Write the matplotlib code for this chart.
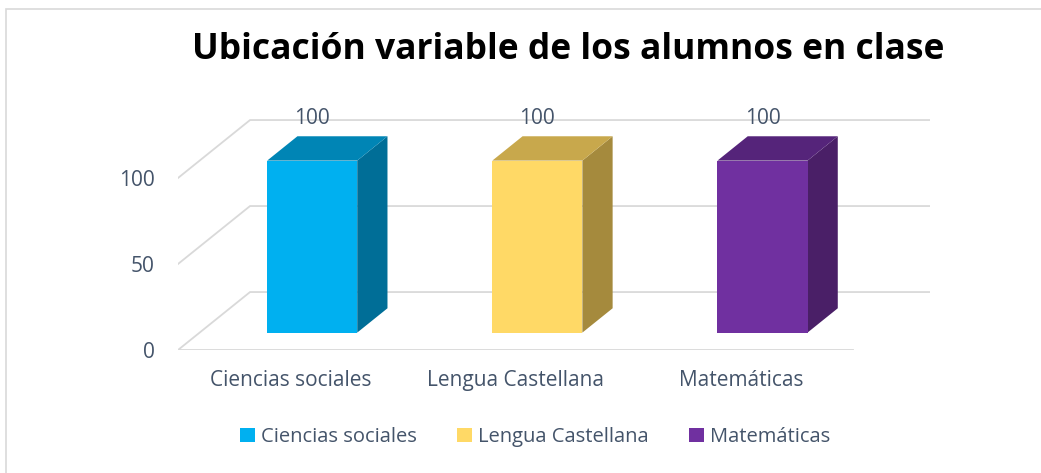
import matplotlib
matplotlib.use("Agg")
import matplotlib.pyplot as plt
from matplotlib.patches import Polygon, Patch, Rectangle

# datos
materias = ["Ciencias sociales", "Lengua Castellana", "Matemáticas"]
valores = [100, 100, 100]
ticks_y = [0, 50, 100]

# colores (frente, tapa, lateral)
col_frente = ["#00B0F0", "#FFD966", "#7030A0"]
col_tapa = ["#0085B5", "#C8A84C", "#55247A"]
col_lado = ["#006E97", "#A58A3D", "#4A1F67"]
txt_col = "#44546A"
grid_col = "#D9D9D9"

plt.rcParams['font.family'] = ['Open Sans', 'DejaVu Sans']

# proyeccion oblicua simple
DX = 0.32   # desplazamiento x por profundidad completa
DY = 33.7   # desplazamiento y por profundidad completa
Z0, Z1 = 0.30, 0.72   # profundidad de la barra
ANCHO = 0.40

def proy(x, y, z):
    return (x + z * DX, y + z * DY)

fig = plt.figure(figsize=(10.41, 4.73), dpi=100)
fig.patch.set_facecolor("white")
fig.add_artist(Rectangle((6 / 1041, -0.1), 1.2, 1 - 9 / 473 + 0.1, transform=fig.transFigure,
                         fill=False, edgecolor=grid_col, lw=1.2))

ax = fig.add_axes([178 / 1041, 123 / 473, 752 / 1041, 232.2 / 473])
ax.set_xlim(-0.5, 2.84)
ax.set_ylim(0, 135)
for s in ax.spines.values():
    s.set_visible(False)
ax.set_xticks([])
ax.set_yticks(ticks_y)
ax.set_yticklabels([str(t) for t in ticks_y], fontsize=15, color=txt_col)
ax.tick_params(axis="y", length=0, pad=17)

n = len(materias)
x_ini, x_fin = -0.5, n - 0.5

# rejilla: diagonal en la pared lateral + linea en el fondo
for t in ticks_y:
    a = proy(x_ini, t, 0)
    b = proy(x_ini, t, 1)
    c = proy(x_fin + 0.02, t, 1)
    ax.plot([a[0], b[0], c[0]], [a[1], b[1], c[1]], color=grid_col, lw=1.3, zorder=1,
            solid_joinstyle="miter")
# borde frontal del suelo
a = proy(x_ini, 0, 0)
b = proy(x_fin, 0, 0)
ax.plot([a[0], b[0]], [a[1], b[1]], color=grid_col, lw=1.3, zorder=1)

for i, v in enumerate(valores):
    x0, x1 = i - ANCHO / 2, i + ANCHO / 2
    frente = [proy(x0, 0, Z0), proy(x1, 0, Z0), proy(x1, v, Z0), proy(x0, v, Z0)]
    tapa = [proy(x0, v, Z0), proy(x1, v, Z0), proy(x1, v, Z1), proy(x0, v, Z1)]
    lado = [proy(x1, 0, Z0), proy(x1, 0, Z1), proy(x1, v, Z1), proy(x1, v, Z0)]
    ax.add_patch(Polygon(lado, closed=True, facecolor=col_lado[i], edgecolor="none", zorder=3))
    ax.add_patch(Polygon(tapa, closed=True, facecolor=col_tapa[i], edgecolor="none", zorder=3))
    ax.add_patch(Polygon(frente, closed=True, facecolor=col_frente[i], edgecolor="none", zorder=4))
    # etiqueta de valor
    px, py = proy(i, v, Z1)
    ax.text(proy(i, v, Z0)[0], py + 10.5, str(v), ha="center", va="center",
            fontsize=15, color=txt_col, zorder=5, clip_on=False)
    # etiqueta de categoria
    ax.text(i, -18, materias[i], ha="center", va="center", fontsize=15,
            color=txt_col, clip_on=False)

fig.text(568 / 1041, 1 - 50 / 473, "Ubicación variable de los alumnos en clase",
         ha="center", va="center", fontsize=25.5, fontweight="bold", color="black")

handles = [Patch(facecolor=c, edgecolor="none") for c in col_frente]
fig.legend(handles, materias, loc="center", bbox_to_anchor=(535 / 1041, 1 - 437 / 473),
           ncol=3, frameon=False, fontsize=14.5, labelcolor=txt_col,
           handlelength=0.75, handleheight=0.75, handletextpad=0.3, columnspacing=2.0)

fig.savefig("out.png", dpi=100, facecolor="white")
